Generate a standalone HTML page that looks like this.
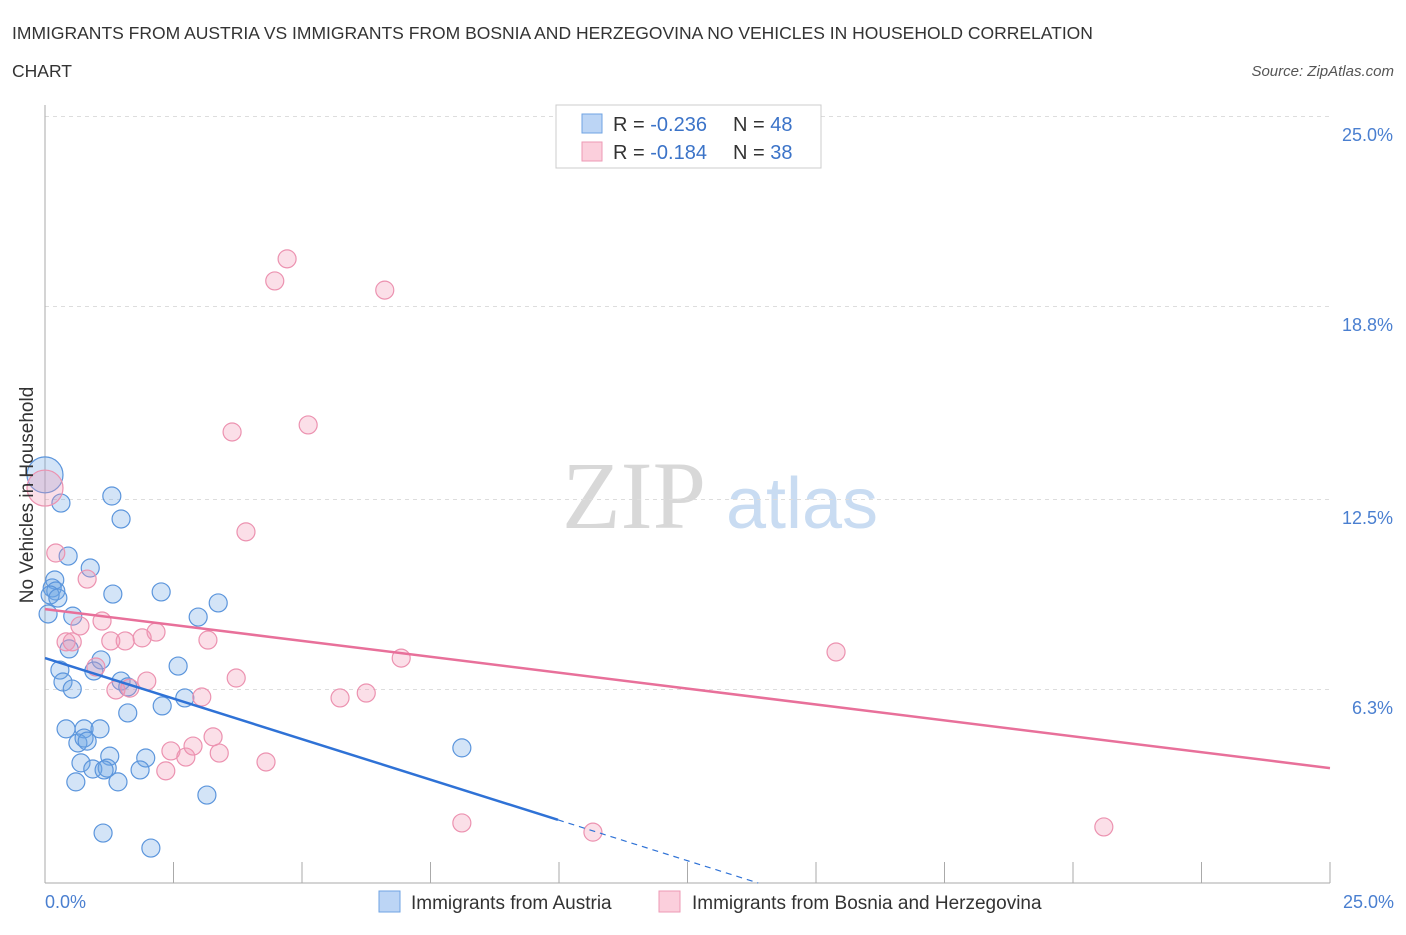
<!DOCTYPE html>
<html><head><meta charset="utf-8"><style>
body{margin:0;background:#fff;font-family:"Liberation Sans",sans-serif;}
</style></head><body>
<svg width="1406" height="930" xmlns="http://www.w3.org/2000/svg" id="chart">
<text x="12" y="39" font-size="17.5" fill="#333">IMMIGRANTS FROM AUSTRIA VS IMMIGRANTS FROM BOSNIA AND HERZEGOVINA NO VEHICLES IN HOUSEHOLD CORRELATION</text>
<text x="12" y="77" font-size="17.5" fill="#333">CHART</text>
<text x="1394" y="76" font-size="15" fill="#555" font-style="italic" text-anchor="end">Source: ZipAtlas.com</text>
<text x="634" y="528" font-size="96" fill="#d8d8d8" font-family="Liberation Serif,serif" text-anchor="middle">ZIP</text>
<text x="802" y="528" font-size="72" fill="#c9dcf2" text-anchor="middle">atlas</text>
<g id="grid"></g><g id="axes"></g><g id="pts"></g><g id="lines"></g>
<g>
<rect x="556" y="105" width="265" height="63" fill="#fff" stroke="#ccc"/>
<rect x="582" y="114" width="20" height="19" fill="#bcd5f5" stroke="#6fa3e3"/>
<rect x="582" y="142" width="20" height="19" fill="#fbcfdc" stroke="#ee9ab5"/>
<text x="613" y="131" font-size="20" fill="#333">R = <tspan fill="#3b73c8">-0.236</tspan><tspan x="733">N = </tspan><tspan fill="#3b73c8">48</tspan></text>
<text x="613" y="159" font-size="20" fill="#333">R = <tspan fill="#3b73c8"> -0.184</tspan><tspan x="733">N = </tspan><tspan fill="#3b73c8">38</tspan></text>
</g>
<g>
<rect x="379" y="891" width="21" height="21" fill="#bcd5f5" stroke="#6fa3e3"/>
<text x="411" y="909" font-size="19" fill="#333">Immigrants from Austria</text>
<rect x="659" y="891" width="21" height="21" fill="#fbcfdc" stroke="#ee9ab5"/>
<text x="692" y="909" font-size="19" fill="#333">Immigrants from Bosnia and Herzegovina</text>
</g>
<text x="19" y="495" font-size="19" fill="#333" transform="rotate(-90 19 495) translate(0 14)" text-anchor="middle">No Vehicles in Household</text>
</svg>
<script>
const yTicks=[25.0,18.8,12.5,6.3];
const yTickLabels=["25.0%","18.8%","12.5%","6.3%"];
const xTickLabels=["0.0%","25.0%"];
const austriaX=[0,0.31,1.30,1.48,0.45,0.88,0.19,0.14,0.21,1.32,2.26,3.37,0.06,0.54,2.98,0.47,1.09,2.59,0.29,0.95,0.35,1.48,0.53,1.61,2.72,2.28,1.61,0.41,0.76,1.07,0.64,0.76,0.82,1.26,0.70,1.96,0.93,1.21,1.15,1.85,0.60,1.42,3.15,8.11,1.13,2.06,0.10,0.25];
const austriaY=[13.32,12.40,12.63,11.88,10.67,10.28,9.89,9.63,9.53,9.43,9.50,9.14,8.78,8.71,8.68,7.64,7.28,7.08,6.95,6.92,6.56,6.59,6.33,6.40,6.04,5.78,5.55,5.03,5.03,5.03,4.57,4.73,4.63,4.14,3.92,4.08,3.72,3.75,3.69,3.69,3.30,3.30,2.87,4.41,1.63,1.14,9.40,9.30];
const bosniaX=[4.71,4.47,6.61,3.64,5.12,3.91,0.21,0.82,0.68,1.11,0.41,0.53,1.28,1.56,1.89,2.16,3.17,0.99,1.38,1.65,1.98,3.72,5.74,6.25,6.93,15.39,3.05,2.45,2.74,2.88,3.27,3.39,2.35,4.30,8.11,10.66,20.60,0];
const bosniaY=[20.37,19.65,19.35,14.72,14.95,11.46,10.77,9.92,8.39,8.55,7.87,7.87,7.90,7.90,8.00,8.19,7.93,7.05,6.30,6.36,6.59,6.69,6.04,6.20,7.34,7.54,6.07,4.31,4.11,4.47,4.77,4.24,3.66,3.95,1.96,1.66,1.83,12.89];
const austriaTrend=[7.34,-0.529];
const bosniaTrend=[8.94,-0.2076];
const NS="http://www.w3.org/2000/svg";
const X=v=>45+v*51.4, Y=v=>883-v*30.64;
function mk(t,a,p){const e=document.createElementNS(NS,t);for(const k in a)e.setAttribute(k,a[k]);document.getElementById(p).appendChild(e);return e;}
yTicks.forEach((t,i)=>{
 const g=mk('line',{x1:45,x2:1330,y1:Y(t)-0.5,y2:Y(t)-0.5,stroke:'#ddd','stroke-dasharray':'4,4'},'grid');
 
 
 const l=mk('text',{x:1393,y:Y(t)+24,'font-size':18,fill:'#4a7fd0','text-anchor':'end'},'axes');
 l.textContent=yTickLabels[i];
 
 
});
const ax=mk('line',{x1:45,x2:45,y1:105,y2:883,stroke:'#aaa'},'axes');


const bx=mk('line',{x1:45,x2:1330,y1:883,y2:883,stroke:'#aaa'},'axes');


for(let i=1;i<=10;i++){const t=mk('line',{x1:X(i*2.5),x2:X(i*2.5),y1:862,y2:883,stroke:'#aaa'},'axes');
 
 }
[[0,'start',45],[25,'end',1394]].forEach((d,i)=>{const t=mk('text',{x:d[2],y:908,'font-size':18,fill:'#4a7fd0','text-anchor':d[1]},'axes');t.textContent=xTickLabels[i];
 
 });
function pts(xs,ys,fill,stroke,name){xs.forEach((x,i)=>{const big=x===0&&ys[i]>12.5;
 const c=mk('circle',{cx:X(x),cy:Y(ys[i]),r:big?18:9,fill:fill,stroke:stroke,'stroke-width':1.2},'pts');
 
 });}
pts(austriaX,austriaY,'rgba(110,165,230,0.3)','#5b95dc','austria-point');
pts(bosniaX,bosniaY,'rgba(242,150,180,0.3)','#ec92b0','bosnia-point');
const ae=9.98;
const l1=mk('line',{x1:X(0),y1:Y(austriaTrend[0]),x2:X(ae),y2:Y(austriaTrend[0]+austriaTrend[1]*ae),stroke:'#2f72d6','stroke-width':2.5},'lines');


const xe=-austriaTrend[0]/austriaTrend[1];
const l2=mk('line',{x1:X(ae),y1:Y(austriaTrend[0]+austriaTrend[1]*ae),x2:X(xe),y2:Y(0),stroke:'#2f72d6','stroke-width':1.2,'stroke-dasharray':'6,5'},'lines');


const l3=mk('line',{x1:X(0),y1:Y(bosniaTrend[0]),x2:X(25),y2:Y(bosniaTrend[0]+bosniaTrend[1]*25),stroke:'#e8709a','stroke-width':2.5},'lines');


</script>
</body></html>
